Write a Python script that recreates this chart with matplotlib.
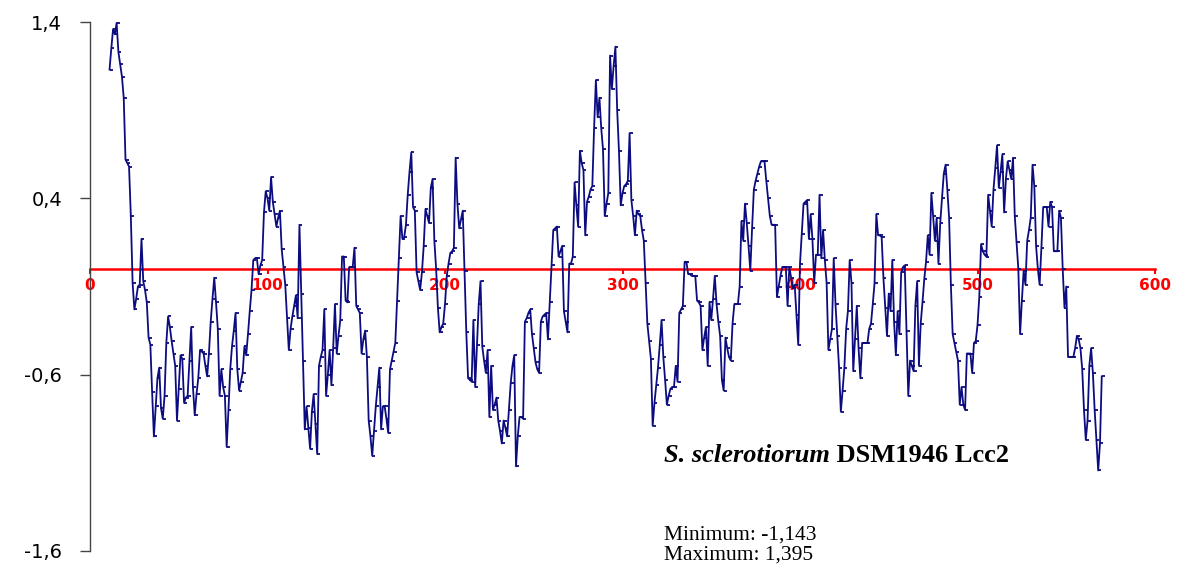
import numpy as np
import matplotlib
matplotlib.use("Agg")
import matplotlib.pyplot as plt
from matplotlib.path import Path
from matplotlib.markers import MarkerStyle

# ---------------- data ----------------
start_pos = 11
hydropathy = [
    1.13, 1.25, 1.36, 1.33, 1.395, 1.23, 1.16, 1.09, 0.97, 0.62,
    0.60, 0.58, 0.30, -0.08, -0.23, -0.17, -0.10, -0.09, 0.17, -0.07,
    -0.12, -0.19, -0.39, -0.43, -0.70, -0.95, -0.78, -0.62, -0.56, -0.79,
    -0.85, -0.72, -0.42, -0.27, -0.33, -0.41, -0.48, -0.55, -0.86, -0.68,
    -0.49, -0.51, -0.76, -0.73, -0.72, -0.52, -0.33, -0.67, -0.83, -0.71,
    -0.62, -0.46, -0.47, -0.48, -0.55, -0.61, -0.48, -0.30, -0.17, -0.05,
    -0.19, -0.34, -0.72, -0.57, -0.67, -0.72, -1.01, -0.80, -0.57, -0.44,
    -0.35, -0.25, -0.57, -0.69, -0.64, -0.59, -0.44, -0.49, -0.37, -0.24,
    -0.12, 0.05, 0.06, 0.06, -0.03, 0.02, 0.05, 0.32, 0.44, 0.40,
    0.33, 0.52, 0.38, 0.31, 0.24, 0.29, 0.33, 0.11, 0.01, -0.09,
    -0.28, -0.46, -0.34, -0.27, -0.21, -0.15, -0.28, 0.25, -0.14, -0.52,
    -0.91, -0.78, -0.90, -1.02, -0.81, -0.71, -0.88, -1.05, -0.55, -0.50,
    -0.46, -0.23, -0.72, -0.60, -0.46, -0.66, -0.45, -0.20, -0.48, -0.38,
    -0.29, 0.07, 0.07, -0.18, -0.19, 0.01, 0.01, 0.01, 0.12, -0.21,
    -0.23, -0.25, -0.48, -0.40, -0.35, -0.50, -0.86, -0.95, -1.06, -0.92,
    -0.78, -0.67, -0.56, -0.91, -0.78, -0.78, -0.85, -0.93, -0.57, -0.52,
    -0.47, -0.42, -0.18, 0.06, 0.30, 0.17, 0.18, 0.25, 0.42, 0.55,
    0.66, 0.35, 0.33, -0.02, -0.07, -0.12, -0.02, 0.13, 0.34, 0.30,
    0.26, 0.46, 0.51, 0.16, 0.00, -0.22, -0.36, -0.33, -0.31, -0.20,
    -0.04, 0.03, 0.09, 0.10, 0.12, 0.63, 0.37, 0.23, 0.28, 0.33,
    -0.01, -0.36, -0.62, -0.63, -0.64, -0.29, -0.67, -0.43, -0.20, -0.07,
    -0.44, -0.52, -0.59, -0.46, -0.84, -0.55, -0.80, -0.77, -0.73, -0.86,
    -0.92, -0.99, -0.86, -0.90, -0.95, -0.80, -0.65, -0.55, -0.49, -1.12,
    -0.95, -0.84, -0.84, -0.85, -0.30, -0.28, -0.25, -0.23, -0.37, -0.45,
    -0.53, -0.57, -0.59, -0.30, -0.27, -0.26, -0.25, -0.40, -0.19, 0.02,
    0.22, 0.23, 0.24, 0.07, 0.10, 0.13, -0.24, -0.30, -0.36, 0.03,
    0.03, 0.07, 0.49, 0.36, 0.24, 0.67, 0.60, 0.56, 0.19, 0.38,
    0.41, 0.45, 0.47, 0.80, 1.07, 0.86, 0.97, 0.80, 0.68, 0.30,
    0.37, 0.43, 1.21, 1.02, 1.15, 1.26, 0.90, 0.67, 0.36, 0.43,
    0.47, 0.48, 0.50, 0.77, 0.39, 0.30, 0.19, 0.33, 0.31, 0.30,
    0.22, 0.16, -0.08, -0.31, -0.41, -0.51, -0.89, -0.76, -0.66, -0.56,
    -0.43, -0.29, -0.50, -0.63, -0.77, -0.72, -0.68, -0.67, -0.67, -0.55,
    -0.64, -0.25, -0.23, -0.21, 0.04, 0.04, -0.03, -0.03, -0.04, -0.04,
    -0.04, -0.18, -0.19, -0.21, -0.46, -0.39, -0.33, -0.55, -0.19, -0.29,
    -0.17, -0.04, -0.20, -0.30, -0.38, -0.63, -0.69, -0.39, -0.45, -0.50,
    -0.52, -0.31, -0.20, -0.20, -0.20, -0.10, 0.27, 0.16, 0.37, 0.26,
    0.13, -0.01, 0.23, 0.45, 0.50, 0.54, 0.58, 0.61, 0.61, 0.61,
    0.50, 0.40, 0.30, 0.25, 0.25, 0.25, -0.16, -0.10, -0.04, 0.01,
    0.01, 0.01, -0.21, 0.01, -0.05, -0.11, -0.09, -0.26, -0.43, 0.03,
    0.20, 0.37, 0.38, 0.39, 0.17, 0.31, 0.17, -0.08, 0.08, 0.08,
    0.42, 0.06, 0.22, 0.05, -0.08, -0.46, -0.40, -0.34, 0.06, -0.20,
    -0.38, -0.56, -0.81, -0.69, -0.56, -0.34, -0.24, 0.05, -0.08, -0.58,
    -0.40, -0.21, -0.45, -0.62, -0.42, -0.42, -0.42, -0.42, -0.34, -0.31,
    -0.20, -0.08, 0.31, 0.19, 0.19, 0.18, -0.05, -0.22, -0.38, -0.14,
    -0.24, 0.05, -0.30, -0.49, -0.24, -0.37, -0.02, 0.01, 0.02, -0.35,
    -0.72, -0.52, -0.55, -0.58, -0.21, -0.07, -0.55, -0.31, -0.19, -0.06,
    0.04, 0.19, 0.08, 0.43, 0.30, 0.16, 0.29, 0.03, 0.26, 0.40,
    0.54, 0.59, 0.45, 0.29, -0.09, -0.37, -0.42, -0.47, -0.52, -0.77,
    -0.67, -0.77, -0.80, -0.48, -0.48, -0.48, -0.59, -0.42, -0.41, -0.32,
    -0.16, 0.14, 0.10, 0.08, 0.07, 0.42, 0.33, 0.24, 0.45, 0.57,
    0.70, 0.46, 0.55, 0.65, 0.32, 0.51, 0.61, 0.56, 0.51, 0.63,
    0.30, 0.15, 0.00, -0.37, -0.18, -0.01, -0.09, 0.16, 0.22, 0.29,
    0.59, 0.47, 0.13, 0.00, -0.09, 0.12, 0.35, 0.35, 0.35, 0.24,
    0.38, 0.35, 0.10, 0.10, 0.10, 0.33, 0.29, 0.00, -0.22, -0.10,
    -0.50, -0.50, -0.50, -0.50, -0.45, -0.38, -0.40, -0.45, -0.57, -0.80,
    -0.97, -0.86, -0.55, -0.45, -0.59, -0.80, -0.97, -1.143, -0.99, -0.61,
]
x_ticks = [0, 100, 200, 300, 400, 500, 600]
x_tick_labels = ["0", "100", "200", "300", "400", "500", "600"]
y_ticks = [1.4, 0.4, -0.6, -1.6]
y_tick_labels = ["1,4", "0,4", "-0,6", "-1,6"]
title_italic = "S. sclerotiorum"
title_rest = " DSM1946 Lcc2"
stats_lines = ["Minimum: -1,143", "Maximum: 1,395"]

# ---------------- figure ----------------
W, H = 1182, 578
fig = plt.figure(figsize=(W / 100, H / 100), dpi=100)
fig.patch.set_facecolor("white")
ax = fig.add_axes([90 / W, 27 / H, 1065 / W, 529 / H])

positions = np.arange(start_pos, start_pos + len(hydropathy))
tick_marker = MarkerStyle(Path([(0, 0), (1, 0)], [Path.MOVETO, Path.LINETO]))
ax.plot(positions, hydropathy, color="#0c0c80", lw=1.3,
        marker=tick_marker, markersize=4.5, markeredgewidth=1.3,
        markeredgecolor="#0c0c80", zorder=3)

ax.set_xlim(0, 600)
ax.set_ylim(-1.6, 1.4)

# spines
for s in ("top", "right"):
    ax.spines[s].set_visible(False)
ax.spines["left"].set_color("#444444")
ax.spines["left"].set_linewidth(1.0)
ax.spines["bottom"].set_position(("data", 0))
ax.spines["bottom"].set_color("red")
ax.spines["bottom"].set_linewidth(1.8)
ax.spines["bottom"].set_zorder(2)

ax.set_xticks(x_ticks)
ax.set_xticklabels(x_tick_labels)
ax.tick_params(axis="x", direction="out", length=3.5, width=1.5,
               colors="red", pad=3.0)
for lab in ax.get_xticklabels():
    lab.set_fontfamily("DejaVu Sans")
    lab.set_fontweight("bold")
    lab.set_fontsize(11)
    lab.set_color("red")

ax.set_yticks(y_ticks)
ax.set_yticklabels(y_tick_labels)
ax.tick_params(axis="y", direction="out", length=7, width=1.0,
               colors="#444444", pad=13)
for lab in ax.get_yticklabels():
    lab.set_fontfamily("DejaVu Sans")
    lab.set_fontsize(14)
    lab.set_color("black")

# annotation text
t1 = fig.text(664 / W, 1 - 462 / H, title_italic, fontfamily="Liberation Serif",
              fontweight="bold", fontstyle="italic", fontsize=19,
              va="baseline", ha="left")
fig.canvas.draw()
ann = ax.annotate(title_rest, xy=(1, 0), xycoords=t1, va="bottom", ha="left",
                  fontfamily="Liberation Serif", fontweight="bold", fontsize=19,
                  annotation_clip=False)
for line, base in zip(stats_lines, (540, 560)):
    fig.text(664 / W, 1 - base / H, line, fontfamily="Liberation Serif",
             fontsize=15.5, va="baseline", ha="left")

fig.savefig("out.png", dpi=100, facecolor="white")
